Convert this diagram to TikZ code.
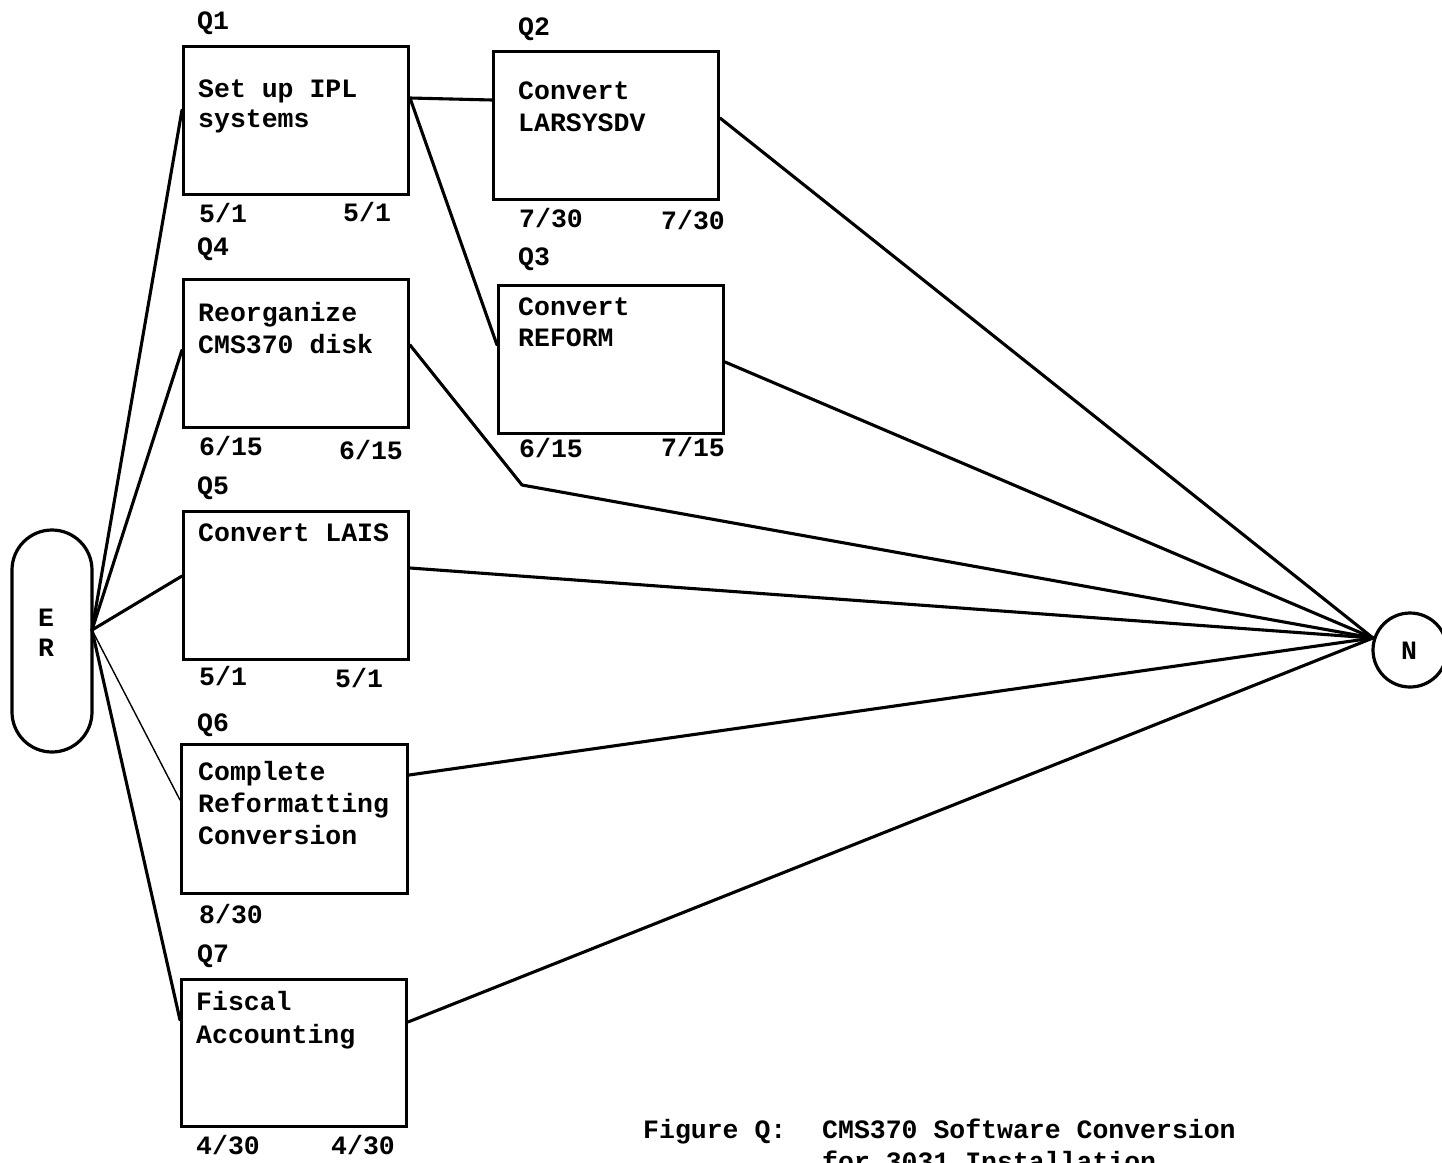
\documentclass[tikz,border=0pt]{standalone}
\usepackage{fontspec}
\setmainfont{Liberation Mono}
\usetikzlibrary{calc}

\tikzset{
  task/.style={draw, line width=3pt, rectangle, minimum width=225pt, minimum height=148pt,
               anchor=north west, inner sep=0pt},
  txt/.style={anchor=base west, inner sep=0pt, font=\fontsize{26.5}{30}\selectfont\bfseries},
  link/.style={line width=3.1pt, line join=round, line cap=round},
  thin link/.style={line width=1.4pt, line cap=round},
  endnode/.style={draw, line width=3.2pt, inner sep=0pt},
}

\begin{document}
\begin{tikzpicture}[x=1pt, y=-1pt]
  \useasboundingbox (0,0) rectangle (1442,1162);
  \clip (0,0) rectangle (1442,1162);
  \fill[white] (0,0) rectangle (1442,1162);

  % start and end events
  \node[endnode, rectangle, rounded corners=40pt, minimum width=80pt, minimum height=222pt]
    (er) at (52,641) {};
  \node[txt, anchor=base] (erE) at (46,626) {E};
  \node[txt, anchor=base] (erR) at (46,656) {R};
  \node[endnode, circle, minimum size=74pt] (n) at (1410,650) {};
  \node[txt, anchor=base] (nN) at (1409,659) {N};
  \coordinate (erj) at (92,630);
  \coordinate (nj) at (1373,638);

  % task boxes
  \node[task] (q1) at (182,45) {};
  \node[task] (q2) at (492,50) {};
  \node[task] (q3) at (497,284) {};
  \node[task] (q4) at (182,278) {};
  \node[task] (q5) at (182,510) {};
  \node[task, minimum width=226pt, minimum height=149pt] (q6) at (180,743) {};
  \node[task, minimum width=225pt, minimum height=147pt] (q7) at (180,978) {};

  % Q1
  \node[txt] (q1id) at (197,29) {Q1};
  \node[txt] (q1a) at (198,97) {Set up IPL};
  \node[txt] (q1b) at (198,127) {systems};
  \node[txt] (q1s) at (199,222) {5/1};
  \node[txt] (q1f) at (343,221) {5/1};
  % Q2
  \node[txt] (q2id) at (518,35) {Q2};
  \node[txt] (q2a) at (518,99) {Convert};
  \node[txt] (q2b) at (518,131) {LARSYSDV};
  \node[txt] (q2s) at (519,227) {7/30};
  \node[txt] (q2f) at (661,229) {7/30};
  % Q3
  \node[txt] (q3id) at (518,265) {Q3};
  \node[txt] (q3a) at (518,315) {Convert};
  \node[txt] (q3b) at (518,346) {REFORM};
  \node[txt] (q3s) at (519,457) {6/15};
  \node[txt] (q3f) at (661,456) {7/15};
  % Q4
  \node[txt] (q4id) at (197,255) {Q4};
  \node[txt] (q4a) at (198,321) {Reorganize};
  \node[txt] (q4b) at (198,353) {CMS370 disk};
  \node[txt] (q4s) at (199,455) {6/15};
  \node[txt] (q4f) at (339,459) {6/15};
  % Q5
  \node[txt] (q5id) at (197,494) {Q5};
  \node[txt] (q5a) at (198,541) {Convert LAIS};
  \node[txt] (q5s) at (199,685) {5/1};
  \node[txt] (q5f) at (335,687) {5/1};
  % Q6
  \node[txt] (q6id) at (197,731) {Q6};
  \node[txt] (q6a) at (198,780) {Complete};
  \node[txt] (q6b) at (198,812) {Reformatting};
  \node[txt] (q6c) at (198,844) {Conversion};
  \node[txt] (q6s) at (199,923) {8/30};
  % Q7
  \node[txt] (q7id) at (197,962) {Q7};
  \node[txt] (q7a) at (196,1010) {Fiscal};
  \node[txt] (q7b) at (196,1043) {Accounting};
  \node[txt] (q7s) at (196,1154) {4/30};
  \node[txt] (q7f) at (331,1154) {4/30};

  % connectors from the start event
  \draw[link] (erj) -- ([yshift=-65pt]q1.north west);
  \draw[link] (erj) -- ([yshift=-72pt]q4.north west);
  \draw[link] (erj) -- ([yshift=-66pt]q5.north west);
  \draw[thin link] (erj) -- ([yshift=-57pt]q6.north west);
  \draw[link] (erj) -- ([yshift=-42pt]q7.north west);

  % Q1 successors
  \draw[link] ([yshift=-53pt]q1.north east) -- ([yshift=-50pt]q2.north west);
  \draw[link] ([yshift=-53pt]q1.north east) -- ([yshift=-61pt]q3.north west);

  % connectors into the end event
  \coordinate (bend) at (522,485);
  \draw[link] ([yshift=-68pt]q2.north east) -- (nj);
  \draw[link] ([yshift=-78pt]q3.north east) -- (nj);
  \draw[link] ([yshift=-67pt]q4.north east) -- (bend) -- (nj);
  \draw[link] ([yshift=-58pt]q5.north east) -- (nj);
  \draw[link] ([yshift=-32pt]q6.north east) -- (nj);
  \draw[link] ([yshift=-44pt]q7.north east) -- (nj);

  % caption; its second line runs past the lower edge
  \node[txt] (capa) at (643,1138) {Figure Q:};
  \node[txt] (capb) at (822,1138) {CMS370 Software Conversion};
  \node[txt] (capc) at (822,1170) {for 3031 Installation};
\end{tikzpicture}
\end{document}
